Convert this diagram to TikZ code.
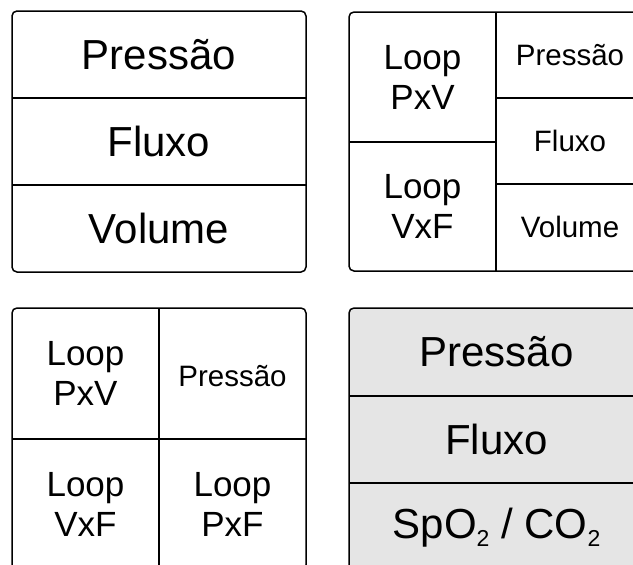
\documentclass[tikz,border=0pt]{standalone}
\usepackage{fontspec}
\setmainfont{Liberation Sans}
\usepackage{tikz}

\newcommand{\subtwo}{\raisebox{-8pt}{\fontsize{23}{23}\selectfont 2}}

\tikzset{
  big/.style={font=\fontsize{42}{48}\selectfont},
  loop/.style={font=\fontsize{35}{40}\selectfont,align=center},
  small/.style={font=\fontsize{29.5}{34}\selectfont},
}

\begin{document}
\begin{tikzpicture}[x=1pt,y=-1pt,line width=1.5pt]
\clip (0,0) rectangle (633,565);
% panel 1:
\path[draw=black,rounded corners=5pt] (12,11) rectangle (306,272);
\path[draw=black] (12,98) -- (306,98);
\path[draw=black] (12,185) -- (306,185);
\node[big] (p1pres) at (159,54.5) {Pressão};
\node[big] (p1flux) at (159,141.5) {Fluxo};
\node[big] (p1vol) at (159,228.5) {Volume};
% panel 2:
\path[draw=black,rounded corners=5pt] (349,12) rectangle (644,271);
\path[draw=black] (496,12) -- (496,271);
\path[draw=black] (349,142) -- (496,142);
\path[draw=black] (496,98) -- (644,98);
\path[draw=black] (496,184) -- (644,184);
\node[loop] (p2pxv) at (422.5,77) {Loop\\PxV};
\node[loop] (p2vxf) at (422.5,206) {Loop\\VxF};
\node[small] (p2pres) at (570,55) {Pressão};
\node[small] (p2flux) at (570,141) {Fluxo};
\node[small] (p2vol) at (570,227) {Volume};
% panel 3:
\path[draw=black,rounded corners=5pt] (12,308) rectangle (306,570);
\path[draw=black] (159,308) -- (159,570);
\path[draw=black] (12,439) -- (306,439);
\node[loop] (p3pxv) at (85.5,373.5) {Loop\\PxV};
\node[small] (p3pres) at (232.5,376) {Pressão};
\node[loop] (p3vxf) at (85.5,504.5) {Loop\\VxF};
\node[loop] (p3pxf) at (232.5,504.5) {Loop\\PxF};
% panel 4:
\path[draw=black,fill=black!10,rounded corners=5pt] (349,308) rectangle (644,570);
\path[draw=black] (349,396) -- (644,396);
\path[draw=black] (349,483) -- (644,483);
\node[big] (p4pres) at (496.5,352) {Pressão};
\node[big] (p4flux) at (496.5,439.5) {Fluxo};
\node[big] (p4gas) at (496.5,528) {SpO\subtwo{} / CO\subtwo};
\end{tikzpicture}
\end{document}
